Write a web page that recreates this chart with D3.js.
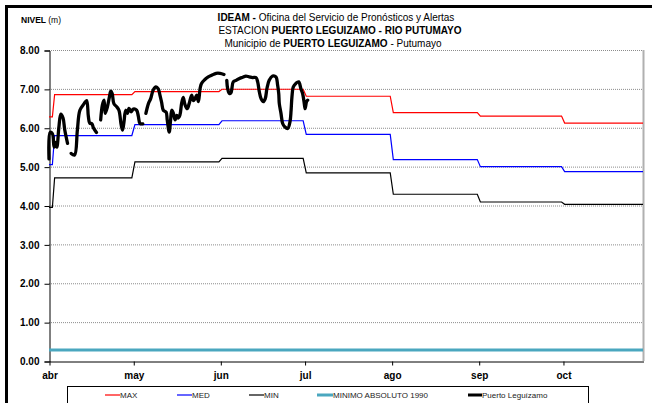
<!DOCTYPE html>
<html><head><meta charset="utf-8">
<script src="https://cdn.jsdelivr.net/npm/d3@7"></script>
<style>
html,body{margin:0;padding:0;background:#fff;}
svg{display:block;font-family:"Liberation Sans",Arial,sans-serif;}
</style></head>
<body>
<svg id="chart" width="652" height="403"></svg>
<script>
// ---- data ----
const monthLabels = ['abr','may','jun','jul','ago','sep','oct'];
const monthStartDays = [0, 30, 61, 91, 122, 153, 183];
const lastDay = 211.5;
const yTicks = [0,1,2,3,4,5,6,7,8];

const maxInitial = 6.28;
const maxValues = [6.85, 6.93, 6.99, 6.81, 6.39, 6.30, 6.12];
const medInitial = 5.05;
const medValues = [5.80, 6.08, 6.18, 5.83, 5.18, 5.00, 4.87];
const minInitial = 3.95;
const minValues = [4.71, 5.12, 5.21, 4.84, 4.29, 4.09, 4.03];
const minAbs1990 = 0.28;

// observed level, Puerto Leguízamo (null = gap)
const obsDays = [0,0.4,1.2,1.8,2.3,2.8,3.5,4.2,5,5.6,6.6,null,
 7.9,9.1,10.1,11,12.5,13.4,14,14.5,15.3,15.8,16.9,null,
 18.4,19,19.6,20,20.8,21.5,22,22.5,23.1,24.1,24.9,25.7,26.2,26.7,27.3,27.9,28.5,29.3,30,31.2,31.8,32.4,33.4,null,
 34.5,35.4,36.2,37.1,38.1,38.9,39.5,40.1,40.7,41.7,42.1,42.8,43.3,43.7,44.3,44.9,45.5,46,46.6,47.2,47.8,48.4,49.2,49.9,50.8,51.4,52,52.6,53.2,53.8,54.3,55.5,56.7,57.9,59.5,60.9,62.3,null,
 63.3,63.6,64.2,64.8,65.1,65.6,66.6,67.8,69,70.1,71.3,72.5,73.7,74.3,74.9,75.5,76.3,77,77.6,78.4,79.6,80.8,81.4,81.8,82,82.6,83.2,84,85,85.8,86.2,86.5,87,87.9,88.9,89.7,90.3,90.9,91.2,91.7,92.1];
const obsLevels = [5.2,5.88,5.85,5.5,5.62,5.5,6.0,6.35,6.25,5.95,5.6,null,
 5.34,5.30,5.94,6.45,6.62,6.70,6.30,6.12,6.10,6.0,5.88,null,
 6.2,6.58,6.71,6.37,6.54,6.79,6.94,6.88,6.62,6.54,6.45,6.07,5.94,6.15,6.45,6.37,6.5,6.41,6.48,6.45,6.3,6.11,6.1,null,
 6.37,6.62,6.75,6.97,7.05,7.0,6.84,6.65,6.45,6.4,6.2,5.89,6.2,6.45,6.37,6.2,6.32,6.25,6.32,6.62,6.78,6.6,6.49,6.62,6.84,6.7,6.75,6.84,6.67,7.01,7.14,7.24,7.31,7.35,7.40,7.40,7.37,null,
 7.22,7.01,6.88,6.9,7.0,7.18,7.22,7.27,7.3,7.33,7.31,7.29,7.29,7.18,6.92,6.75,6.67,6.75,7.01,7.22,7.33,7.31,7.1,6.88,6.62,6.37,6.11,6.02,5.98,6.15,6.45,6.79,7.05,7.14,7.18,7.0,6.88,6.62,6.49,6.67,6.71];

// ---- layout ----
const svg = d3.select('#chart');
const L = 49, R = 643, T = 50, B = 361;
const x = d3.scaleLinear().domain([0, lastDay]).range([L, R]);
const y = d3.scaleLinear().domain([0, 8]).range([B, T]);

// outer frame (thick black, cropped)
svg.append('rect').attr('x', 6.5).attr('y', 6.5).attr('width', 700).attr('height', 500)
  .attr('fill', 'none').attr('stroke', '#000').attr('stroke-width', 3);

// title
const title = svg.append('g').attr('font-size', 10).attr('text-anchor', 'middle').attr('fill', '#000');
const t1 = title.append('text').attr('x', 336).attr('y', 21);
t1.append('tspan').attr('font-weight', 'bold').text('IDEAM - ');
t1.append('tspan').text('Oficina del Servicio de Pronósticos y Alertas');
const t2 = title.append('text').attr('x', 340).attr('y', 34);
t2.append('tspan').text('ESTACION ');
t2.append('tspan').attr('font-weight', 'bold').text('PUERTO LEGUIZAMO -  RIO PUTUMAYO');
const t3 = title.append('text').attr('x', 333).attr('y', 47);
t3.append('tspan').text('Municipio de ');
t3.append('tspan').attr('font-weight', 'bold').text('PUERTO LEGUIZAMO');
t3.append('tspan').text(' - Putumayo');

const yl = svg.append('text').attr('x', 21).attr('y', 23).attr('font-size', 8.5);
yl.append('tspan').attr('font-weight', 'bold').text('NIVEL ');
yl.append('tspan').text('(m)');

// gridlines
svg.append('g').selectAll('line').data(yTicks.filter(d => d > 0)).join('line')
  .attr('x1', L).attr('x2', R).attr('y1', d => y(d) + 0.5).attr('y2', d => y(d) + 0.5)
  .attr('stroke', '#8c8c8c').attr('stroke-width', 1).attr('stroke-dasharray', '1,1');

// plot border right
svg.append('line').attr('x1', R + 0.5).attr('x2', R + 0.5).attr('y1', T).attr('y2', B)
  .attr('stroke', '#b0b0b0').attr('stroke-width', 2);

// axes
const yAxis = d3.axisLeft(y).tickValues(yTicks).tickFormat(d3.format('.2f')).tickSize(5).tickPadding(5);
const gy = svg.append('g').attr('transform', `translate(${L + 0.5},0.5)`).call(yAxis);
gy.selectAll('text').attr('font-size', 10).attr('font-weight', 'bold').attr('font-family', '"Liberation Sans",Arial,sans-serif').attr('fill', '#000');
gy.select('.domain').attr('stroke', '#000');

const xAxis = d3.axisBottom(x).tickValues(monthStartDays).tickFormat((d, i) => monthLabels[i]).tickSize(4).tickPadding(6).tickSizeOuter(0);
const gx = svg.append('g').attr('transform', `translate(0.5,${B + 0.5})`).call(xAxis);
gx.selectAll('text').attr('font-size', 10).attr('font-weight', 'bold').attr('font-family', '"Liberation Sans",Arial,sans-serif').attr('fill', '#000');
gx.select('.domain').attr('stroke', '#000');

// reference step series
function stepPoints(init, vals) {
  const pts = [[0, init], [1.2, init], [2, vals[0]]];
  for (let i = 1; i < vals.length; i++) {
    pts.push([monthStartDays[i] - 0.5, vals[i - 1]]);
    pts.push([monthStartDays[i] + 0.6, vals[i]]);
  }
  pts.push([lastDay, vals[vals.length - 1]]);
  return pts;
}
const lineGen = d3.line().x(d => x(d[0])).y(d => y(d[1]));

svg.append('line').attr('x1', x(0)).attr('x2', x(lastDay)).attr('y1', y(minAbs1990)).attr('y2', y(minAbs1990))
  .attr('stroke', '#4aa7bf').attr('stroke-width', 3);

const refSeries = [
  {vals: minValues, init: minInitial, color: '#000'},
  {vals: medValues, init: medInitial, color: '#0000ff'},
  {vals: maxValues, init: maxInitial, color: '#ff0000'}
];
refSeries.forEach(s => {
  svg.append('path').attr('d', lineGen(stepPoints(s.init, s.vals)))
    .attr('fill', 'none').attr('stroke', s.color).attr('stroke-width', 1.2);
});

// observed
const obs = obsDays.map((d, i) => [d, obsLevels[i]]);
const obsLine = d3.line().defined(d => d[0] !== null && d[1] !== null)
  .x(d => x(d[0])).y(d => y(d[1])).curve(d3.curveCatmullRom.alpha(0.5));
svg.append('path').attr('d', obsLine(obs)).attr('fill', 'none').attr('stroke', '#000')
  .attr('stroke-width', 3.3).attr('stroke-linejoin', 'round').attr('stroke-linecap', 'round');

// legend
const lg = svg.append('g');
lg.append('rect').attr('x', 67.5).attr('y', 386.5).attr('width', 521).attr('height', 30)
  .attr('fill', '#fff').attr('stroke', '#000').attr('stroke-width', 1);
const legendItems = [
  {name: 'MAX', color: '#ff0000', w: 1.2, x0: 105, x1: 120},
  {name: 'MED', color: '#0000ff', w: 1.2, x0: 177, x1: 192},
  {name: 'MIN', color: '#000', w: 1.2, x0: 249, x1: 264},
  {name: 'MINIMO ABSOLUTO 1990', color: '#4aa7bf', w: 3, x0: 317, x1: 333},
  {name: 'Puerto Leguízamo', color: '#000', w: 3, x0: 468, x1: 482}
];
legendItems.forEach(it => {
  lg.append('line').attr('x1', it.x0).attr('x2', it.x1).attr('y1', 395).attr('y2', 395)
    .attr('stroke', it.color).attr('stroke-width', it.w);
  lg.append('text').attr('x', it.x1).attr('y', 398).attr('font-size', 8).attr('fill', '#222').text(it.name);
});
</script>
</body></html>
